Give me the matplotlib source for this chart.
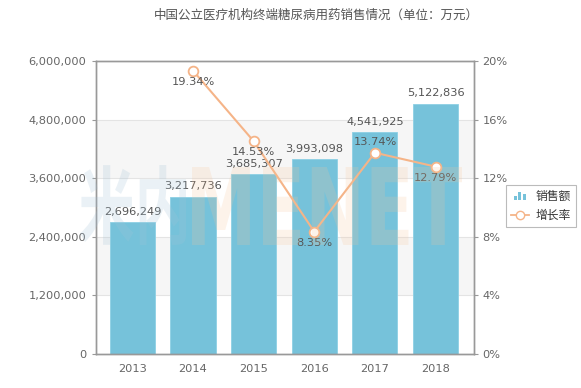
import matplotlib
matplotlib.use("Agg")
import matplotlib.pyplot as plt
import matplotlib.transforms as mtransforms
from matplotlib.textpath import TextPath
from matplotlib.patches import PathPatch, Rectangle
from matplotlib.font_manager import FontProperties
from matplotlib.lines import Line2D
from matplotlib.legend_handler import HandlerBase

plt.rcParams['font.family'] = ['DejaVu Sans', 'Noto Sans CJK SC']

years = ['2013', '2014', '2015', '2016', '2017', '2018']
sales = [2696249, 3217736, 3685307, 3993098, 4541925, 5122836]
growth = [None, 19.34, 14.53, 8.35, 13.74, 12.79]
growth_pos = ['', 'below', 'below', 'below', 'above', 'below']
left_ticks = [0, 1200000, 2400000, 3600000, 4800000, 6000000]
right_ticks = [0, 4, 8, 12, 16, 20]

bar_color = '#76c2da'
line_color = '#f5b488'
txt = '#555555'
tick_c = '#666666'
frame_c = '#999999'

fig = plt.figure(figsize=(5.81, 3.88), dpi=100)
ax = fig.add_axes([96 / 581, 1 - 354 / 388, 378 / 581, 293 / 388])
ax2 = ax.twinx()

x = list(range(len(years)))

# alternating background bands + grid
for i in range(len(left_ticks) - 1):
    if i % 2 == 1:
        ax.axhspan(left_ticks[i], left_ticks[i + 1], color='#f6f6f6', zorder=0, lw=0)
for t in left_ticks[1:-1]:
    ax.axhline(t, color='#e4e4e4', lw=0.8, zorder=0.5)

ax.bar(x, sales, width=0.745, color=bar_color, edgecolor='#8dd0e4', lw=0.6, zorder=2)
for xi, v in zip(x, sales):
    ax.annotate(f'{v:,}', (xi, v), xytext=(0, 7.5), textcoords='offset points',
                ha='center', va='center', fontsize=8.2, color=txt, zorder=5)

ax.set_xlim(-0.60, 5.635)
ax.set_ylim(0, 6000000)
ax.set_yticks(left_ticks)
ax.set_yticklabels([f'{t:,}' for t in left_ticks])
ax.set_xticks(x)
ax.set_xticklabels(years)

gx = [xi for xi, g in zip(x, growth) if g is not None]
gy = [g for g in growth if g is not None]
ax2.plot(gx, gy, color=line_color, lw=1.5, marker='o', markersize=7,
         markerfacecolor='white', markeredgecolor=line_color, markeredgewidth=1.3, zorder=4)
for xi, g, p in zip(x, growth, growth_pos):
    if g is None:
        continue
    dy = 8 if p == 'above' else -8
    ax2.annotate(f'{g:.2f}%', (xi, g), xytext=(0, dy), textcoords='offset points',
                 ha='center', va='center', fontsize=8.2, color=txt, zorder=6)
ax2.set_ylim(0, 20)
ax2.set_yticks(right_ticks)
ax2.set_yticklabels([f'{t}%' for t in right_ticks])

for a in (ax, ax2):
    for s in a.spines.values():
        s.set_color(frame_c)
        s.set_linewidth(1)
    a.tick_params(colors=frame_c, labelcolor=tick_c, labelsize=8.2, length=3, width=0.8)
ax.tick_params(axis='x', length=0, pad=7)
ax.tick_params(axis='y', pad=4)
ax2.tick_params(axis='y', pad=3)
ax.set_zorder(ax2.get_zorder() - 1)
ax2.patch.set_visible(False)

fig.text(316 / 581, 1 - 15 / 388, '中国公立医疗机构终端糖尿病用药销售情况（单位：万元）',
         ha='center', va='center', fontsize=9, color=txt, family=['Noto Sans CJK SC'])


# watermark
def watermark(s, box, color, family, alpha):
    x0, y0, x1, y1 = box
    tp = TextPath((0, 0), s, size=1, prop=FontProperties(family=family, weight='bold'))
    bb = tp.get_extents()
    tr = (mtransforms.Affine2D().translate(-bb.x0, -bb.y0)
          .scale((x1 - x0) / bb.width, (y1 - y0) / bb.height)
          .translate(x0, 388 - y1))
    fig.add_artist(PathPatch(tp, transform=tr, facecolor=color, edgecolor='none',
                             alpha=alpha, zorder=10))


watermark('米内', (80, 165, 186, 245), '#a3c2d6', 'Noto Sans CJK SC', 0.22)
watermark('MENET', (192, 167, 462, 245), '#f6c49a', 'DejaVu Sans', 0.2)


class BarIcon(HandlerBase):
    def create_artists(self, legend, orig, xd, yd, w, h, fs, trans):
        arts = []
        bw = w * 0.17
        gap = w * 0.08
        start = xd + (w - 3 * bw - 2 * gap) / 2
        for i, hh in enumerate([0.55, 1.0, 0.75]):
            r = Rectangle((start + i * (bw + gap), yd - h * 0.05), bw, h * hh * 1.05,
                          facecolor=bar_color, edgecolor='none', transform=trans)
            arts.append(r)
        return arts


bar_handle = Rectangle((0, 0), 1, 1, color=bar_color)
line_handle = Line2D([], [], color=line_color, lw=1.3, marker='o', markersize=6,
                     markerfacecolor='white', markeredgecolor=line_color)
leg = fig.legend([bar_handle, line_handle], ['销售额', '增长率'],
                 handler_map={Rectangle: BarIcon()},
                 loc='center', bbox_to_anchor=(541 / 581, 1 - 206 / 388),
                 prop={'family': ['Noto Sans CJK SC'], 'size': 8.5},
                 frameon=True, fancybox=False, edgecolor='#aaaaaa',
                 handlelength=1.5, handletextpad=0.6, borderpad=0.45, labelspacing=0.5)
for t in leg.get_texts():
    t.set_color('#333333')
leg.get_frame().set_linewidth(0.8)

fig.savefig('out.png', dpi=100)
